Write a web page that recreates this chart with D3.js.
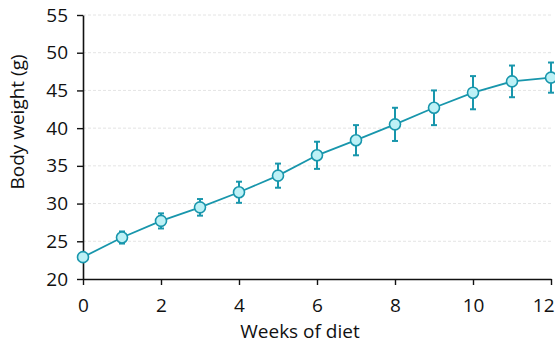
<!DOCTYPE html>
<html>
<head>
<meta charset="utf-8">
<script src="https://cdn.jsdelivr.net/npm/d3@7"></script>
<style>
  html, body { margin: 0; padding: 0; background: #fff; }
  svg text { font-family: "Open Sans", "Noto Sans", sans-serif; fill: #111; }
</style>
</head>
<body>
<div id="chart"></div>
<script>
// Mean body weight over weeks of diet, with standard deviation
const weeks = [0, 1, 2, 3, 4, 5, 6, 7, 8, 9, 10, 11, 12];
const weight = [22.9, 25.5, 27.7, 29.5, 31.5, 33.7, 36.4, 38.4, 40.5, 42.7, 44.7, 46.2, 46.7];
const sd = [0.0, 0.8, 1.0, 1.1, 1.4, 1.6, 1.8, 2.0, 2.2, 2.3, 2.2, 2.1, 2.0];
const xTicks = [0, 2, 4, 6, 8, 10, 12];
const yTicks = [20, 25, 30, 35, 40, 45, 50, 55];

const W = 555, H = 345;
const color = "#1896ac";
const fill = "#bdf1f6";
const fontSize = 19;

const svg = d3.select("#chart").append("svg")
  .attr("width", W).attr("height", H);

const x = d3.scaleLinear().domain([0, 12]).range([83, 551]);
const y = d3.scaleLinear().domain([20, 55]).range([279, 15]);

// horizontal dashed gridlines
svg.append("g")
  .selectAll("line")
  .data(yTicks.filter(v => v > 20))
  .join("line")
  .attr("x1", x(0)).attr("x2", x(12))
  .attr("y1", d => y(d)).attr("y2", d => y(d))
  .attr("stroke", "#e4e4e4")
  .attr("stroke-width", 1)
  .attr("stroke-dasharray", "3,2");

// axes
const xAxis = svg.append("g")
  .attr("transform", `translate(0,${y(20)})`)
  .call(d3.axisBottom(x).tickValues(xTicks).tickSize(6).tickSizeOuter(0).tickPadding(14));
const yAxis = svg.append("g")
  .attr("transform", `translate(${x(0)},0)`)
  .call(d3.axisLeft(y).tickValues(yTicks).tickSize(6).tickSizeOuter(0).tickPadding(9));

[xAxis, yAxis].forEach(g => {
  g.attr("font-family", null).attr("font-size", null);
  g.selectAll(".domain").attr("stroke", "#111").attr("stroke-width", 1.6);
  g.selectAll(".tick line").attr("stroke", "#111").attr("stroke-width", 1.4);
  g.selectAll(".tick text").style("font-size", fontSize + "px").attr("fill", "#111");
});
// keep the last x label inside the frame
xAxis.selectAll(".tick text").filter(d => d === 12)
  .attr("text-anchor", "end").attr("x", 3);

// axis titles
svg.append("text")
  .attr("x", 300).attr("y", 338)
  .attr("text-anchor", "middle")
  .style("font-size", fontSize + "px")
  .text("Weeks of diet");
svg.append("text")
  .attr("transform", `translate(24,122) rotate(-90)`)
  .attr("text-anchor", "middle")
  .style("font-size", fontSize + "px")
  .text("Body weight (g)");

const pts = weeks.map((w, i) => ({ w, m: weight[i], s: sd[i] }));
const withErr = pts.filter(d => d.s > 0);

// error bars
const eb = svg.append("g").attr("stroke", color).attr("stroke-width", 2);
eb.selectAll("line.v").data(withErr).join("line")
  .attr("class", "v")
  .attr("x1", d => x(d.w)).attr("x2", d => x(d.w))
  .attr("y1", d => y(d.m - d.s)).attr("y2", d => y(d.m + d.s));
eb.selectAll("line.top").data(withErr).join("line")
  .attr("class", "top")
  .attr("x1", d => x(d.w) - 3).attr("x2", d => x(d.w) + 3)
  .attr("y1", d => y(d.m + d.s)).attr("y2", d => y(d.m + d.s));
eb.selectAll("line.bot").data(withErr).join("line")
  .attr("class", "bot")
  .attr("x1", d => x(d.w) - 3).attr("x2", d => x(d.w) + 3)
  .attr("y1", d => y(d.m - d.s)).attr("y2", d => y(d.m - d.s));

// mean line
svg.append("path")
  .datum(pts)
  .attr("fill", "none")
  .attr("stroke", color)
  .attr("stroke-width", 1.8)
  .attr("d", d3.line().x(d => x(d.w)).y(d => y(d.m)));

// markers
svg.append("g").selectAll("circle").data(pts).join("circle")
  .attr("cx", d => x(d.w)).attr("cy", d => y(d.m))
  .attr("r", 5.5)
  .attr("fill", fill)
  .attr("stroke", color)
  .attr("stroke-width", 1.6);
</script>
</body>
</html>
